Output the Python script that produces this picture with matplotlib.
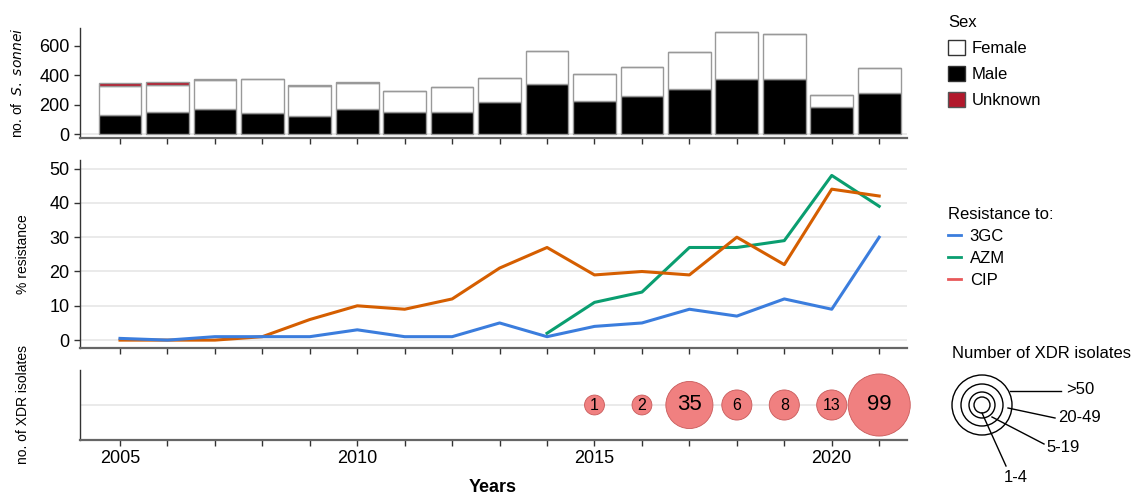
'''
S. sonnei isolates, resistance and XDR counts by year
'''
import matplotlib
matplotlib.use("Agg")
from matplotlib import pyplot as plt
from matplotlib.patches import Patch, Circle
from matplotlib.lines import Line2D

plt.rcParams['font.family'] = ['Liberation Sans', 'DejaVu Sans']

# Data
years = list(range(2005, 2022))
male = [132, 148, 168, 143, 125, 168, 148, 148, 215, 339, 228, 258, 307, 374, 374, 182, 277]
female = [196, 189, 201, 229, 199, 179, 145, 170, 168, 224, 183, 199, 254, 318, 307, 81, 173]
unknown = [18, 18, 5, 6, 8, 4, 0, 0, 0, 0, 0, 0, 0, 0, 0, 0, 0]

res_3gc = [0.5, 0, 1, 1, 1, 3, 1, 1, 5, 1, 4, 5, 9, 7, 12, 9, 30]
azm_years = list(range(2014, 2022))
res_azm = [2, 11, 14, 27, 27, 29, 48, 39]
res_cip = [0, 0, 0, 1, 6, 10, 9, 12, 21, 27, 19, 20, 19, 30, 22, 44, 42]

xdr_years = [2015, 2016, 2017, 2018, 2019, 2020, 2021]
xdr_counts = [1, 2, 35, 6, 8, 13, 99]

# Colours
C_3GC = '#3b7ddd'
C_AZM = '#0a9e70'
C_CIP = '#d55e00'
C_CIP_LEG = '#e8585a'
C_UNK = '#b2182b'
C_BUB = '#f08080'
SPINE = '#333333'
GRID = '#e6e6e6'

W, H = 1137, 497
fig = plt.figure(figsize=(W / 100, H / 100), dpi=100)

def frac(left, top, right, bottom):
    '''pixel box -> figure fraction rect'''
    return [left / W, 1 - bottom / H, (right - left) / W, (bottom - top) / H]

XLIM = (2004.157, 2021.586)

def style_axis(ax):
    '''common axis style'''
    for side in ('top', 'right'):
        ax.spines[side].set_visible(False)
    for side in ('left', 'bottom'):
        ax.spines[side].set_color(SPINE)
        ax.spines[side].set_linewidth(1.0)
    ax.spines['bottom'].set_color('#666666')
    ax.spines['bottom'].set_linewidth(1.6)
    ax.set_xlim(*XLIM)
    ax.tick_params(axis='both', colors=SPINE, labelcolor='black', labelsize=13,
                   length=4, width=1)

# Panel 1: counts by sex
ax1 = fig.add_axes(frac(80, 28, 907, 138))
style_axis(ax1)
ax1.axhline(0, color=GRID, lw=1.2, zorder=0)
bw = 0.9
ax1.bar(years, male, width=bw, color='black', edgecolor='#999999', lw=1)
bottom2 = [m for m in male]
ax1.bar(years, female, width=bw, bottom=bottom2, color='white', edgecolor='#999999', lw=1)
bottom3 = [m + f for m, f in zip(male, female)]
ax1.bar(years, unknown, width=bw, bottom=bottom3, color=C_UNK, edgecolor='#999999', lw=1)
ax1.set_ylim(-27, 722)
ax1.set_yticks([0, 200, 400, 600])
ax1.set_xticks(years)
ax1.set_xticklabels([])
ax1.set_ylabel(r'no. of  $\it{S.\ sonnei}$', fontsize=10, labelpad=10)

# Panel 2: % resistance
ax2 = fig.add_axes(frac(80, 160, 907, 348))
style_axis(ax2)
for yv in range(0, 51, 10):
    ax2.axhline(yv, color=GRID, lw=1.2, zorder=0)
ax2.plot(azm_years, res_azm, color=C_AZM, lw=2.2)
ax2.plot(years, res_cip, color=C_CIP, lw=2.2)
ax2.plot(years, res_3gc, color=C_3GC, lw=2.2)
ax2.set_ylim(-2.3, 52.5)
ax2.set_yticks(range(0, 51, 10))
ax2.set_xticks(years)
ax2.set_xticklabels([])
ax2.set_ylabel('% resistance', fontsize=10, labelpad=14)

# Panel 3: XDR isolates
ax3 = fig.add_axes(frac(80, 370, 907, 440))
style_axis(ax3)
ax3.axhline(1, color=GRID, lw=1.2, zorder=0)
ax3.set_ylim(0, 2)
ax3.set_yticks([])

def bubble_size(n):
    '''marker area by XDR bin'''
    if n <= 4:
        return 205
    if n <= 19:
        return 470
    if n <= 49:
        return 1150
    return 2000

ax3.scatter(xdr_years, [1] * len(xdr_years), s=[bubble_size(n) for n in xdr_counts],
            color=C_BUB, edgecolor='#c85a5a', lw=0.6, zorder=3, clip_on=False)
for yr, n in zip(xdr_years, xdr_counts):
    fs = 16 if n >= 20 else 11.5
    ax3.text(yr, 1, str(n), ha='center', va='center', fontsize=fs, zorder=4)
ax3.set_xticks([2005, 2010, 2015, 2020])
ax3.set_xticks(years, minor=True)
ax3.tick_params(axis='x', which='minor', length=4, width=1, colors=SPINE)
ax3.set_ylabel('no. of XDR isolates', fontsize=10, labelpad=36)

# x-axis title, sits right at the bottom edge as in the reference
fig.text(493 / W, 1 - 488 / H, 'Years', fontsize=13, fontweight='bold',
         ha='center', va='center')

fig.align_ylabels([ax1, ax2, ax3])

# Legends
sex_handles = [Patch(facecolor='white', edgecolor='#333333', label='Female'),
               Patch(facecolor='black', edgecolor='#333333', label='Male'),
               Patch(facecolor=C_UNK, edgecolor='#555555', label='Unknown')]
leg1 = fig.legend(handles=sex_handles, title='Sex', loc='upper left',
                  bbox_to_anchor=(933 / W, 1 - 0 / H), frameon=False, fontsize=12,
                  title_fontsize=12, alignment='left', handlelength=1.0,
                  handleheight=1.0, handletextpad=0.4, labelspacing=0.6)

res_handles = [Line2D([], [], color=C_3GC, lw=2, label='3GC'),
               Line2D([], [], color=C_AZM, lw=2, label='AZM'),
               Line2D([], [], color=C_CIP_LEG, lw=2, label='CIP')]
leg2 = fig.legend(handles=res_handles, title='Resistance to:', loc='upper left',
                  bbox_to_anchor=(933 / W, 1 - 192 / H), frameon=False, fontsize=12,
                  title_fontsize=12, alignment='left', handlelength=0.8,
                  handletextpad=0.5, labelspacing=0.42)

# Bubble size legend drawn in pixel coordinates
axl = fig.add_axes(frac(930, 335, 1137, 497))
axl.set_xlim(930, 1137)
axl.set_ylim(497, 335)
axl.axis('off')
axl.text(952, 353, 'Number of XDR isolates', fontsize=12, va='center', ha='left')
for r in (30, 21, 13, 8):
    axl.add_patch(Circle((982, 405), r, fill=False, ec='black', lw=1))
bins = [('>50', (1010, 391), (1061, 391), (1066, 390), 'left'),
        ('20-49', (1008, 408), (1055, 418), (1058, 418), 'left'),
        ('5-19', (992, 417), (1044, 444), (1046, 447), 'left'),
        ('1-4', (982, 413), (1006, 466), (1016, 478), 'center')]
for label, p0, p1, pt, ha in bins:
    axl.plot([p0[0], p1[0]], [p0[1], p1[1]], color='black', lw=1)
    axl.text(pt[0], pt[1], label, fontsize=12, ha=ha, va='center')

fig.savefig('out.png', dpi=100)
